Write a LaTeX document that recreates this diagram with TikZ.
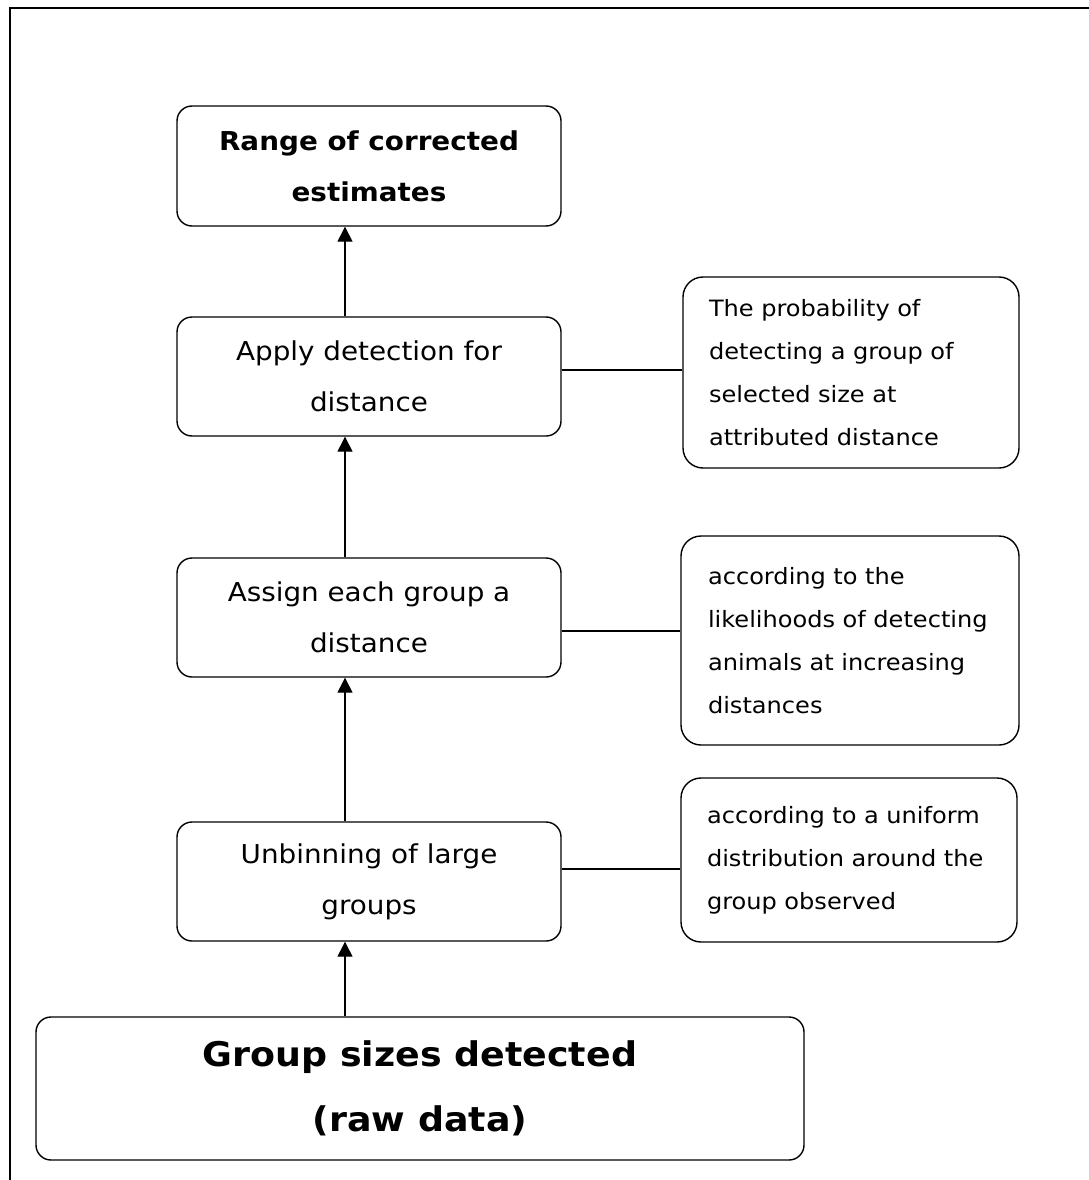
\documentclass[tikz,border=0pt]{standalone}
\usepackage{fontspec}
\setmainfont{DejaVu Sans}[FakeStretch=1.07]
\usetikzlibrary{arrows.meta}

\begin{document}
\begin{tikzpicture}[x=1pt,y=-1pt,line width=1.4pt]
        \tikzstyle{step box}=[draw,rounded corners=15pt,align=center,inner sep=0pt,
                              minimum width=384pt,minimum height=119pt,
                              font=\fontsize{26}{51}\selectfont]
        \tikzstyle{note box}=[draw,rounded corners=20pt,align=left,inner sep=0pt,
                              text width=284pt,minimum height=164pt,
                              font=\fontsize{22.5}{43}\selectfont]
        \tikzstyle{up}=[-{Triangle[width=15pt,length=15pt]}]

        \useasboundingbox (0,0) rectangle (1089,1180);
        \draw[line width=2.4pt] (10,1181) -- (10,8) -- (1090,8);

        \node[step box,font=\fontsize{26}{51}\selectfont\bfseries,minimum height=120pt]
          (est) at (369,166) {Range of corrected\\estimates};
        \node[step box] (apply) at (369,376.5) {Apply detection for\\distance};
        \node[step box] (assign) at (369,617.5) {Assign each group a\\distance};
        \node[step box] (unbin) at (369,881.5) {Unbinning of large\\groups};
        \node[step box,minimum width=768pt,minimum height=143pt,
              font=\fontsize{34}{65}\selectfont\bfseries]
          (raw) at (420,1088.5) {Group sizes detected\\(raw data)};

        \node[note box,minimum width=336pt,minimum height=191pt] (prob) at (851,372.5)
          {The probability of\\detecting a group of\\selected size at\\attributed distance};
        \node[note box,minimum width=338pt,minimum height=209pt] (like) at (850,640.5)
          {according to the\\likelihoods of detecting\\animals at increasing\\distances};
        \node[note box,minimum width=336pt,minimum height=164pt] (unif) at (849,860)
          {according to a uniform\\distribution around the\\group observed};

        \foreach \from/\to in {raw/unbin,unbin/assign,assign/apply,apply/est}
          { \draw[up] (\from.north -| 345,0) -- (\to.south -| 345,0); }

        \foreach \from/\to/\y in {apply/prob/370,assign/like/631,unbin/unif/869}
          { \draw (\from.east |- 0,\y) -- (\to.west |- 0,\y); }
      \end{tikzpicture}
\end{document}
